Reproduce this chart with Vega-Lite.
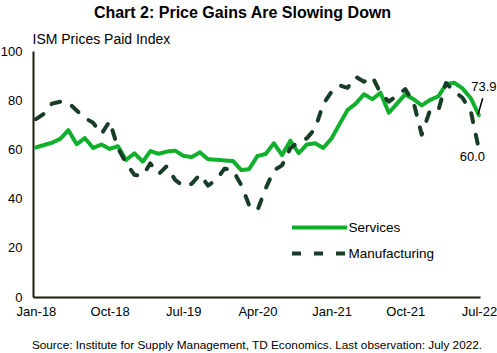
{
  "$schema": "https://vega.github.io/schema/vega-lite/v6.json",
  "width": 447,
  "height": 246,
  "autosize": "none",
  "padding": {"left": 33, "top": 51, "right": 17, "bottom": 56},
  "background": "white",
  "config": {"view": {"stroke": null}, "font": "Liberation Sans"},
  "title": {"text": "Chart 2: Price Gains Are Slowing Down", "fontSize": 16, "fontWeight": "bold", "font": "Liberation Sans", "anchor": "middle", "frame": "group", "dx": -14, "offset": 11, "color": "black"},
  "datasets": {
    "ism": [
      {"d":"2018/01/01","s":"Services","v":60.8},{"d":"2018/02/01","s":"Services","v":61.8},{"d":"2018/03/01","s":"Services","v":62.7},{"d":"2018/04/01","s":"Services","v":64.3},{"d":"2018/05/01","s":"Services","v":67.8},{"d":"2018/06/01","s":"Services","v":62.1},{"d":"2018/07/01","s":"Services","v":64.6},{"d":"2018/08/01","s":"Services","v":60.6},{"d":"2018/09/01","s":"Services","v":62.0},{"d":"2018/10/01","s":"Services","v":60.2},{"d":"2018/11/01","s":"Services","v":61.3},{"d":"2018/12/01","s":"Services","v":55.7},
      {"d":"2019/01/01","s":"Services","v":58.4},{"d":"2019/02/01","s":"Services","v":55.0},{"d":"2019/03/01","s":"Services","v":59.3},{"d":"2019/04/01","s":"Services","v":58.2},{"d":"2019/05/01","s":"Services","v":59.1},{"d":"2019/06/01","s":"Services","v":59.5},{"d":"2019/07/01","s":"Services","v":57.4},{"d":"2019/08/01","s":"Services","v":56.9},{"d":"2019/09/01","s":"Services","v":58.8},{"d":"2019/10/01","s":"Services","v":56.0},{"d":"2019/11/01","s":"Services","v":55.8},{"d":"2019/12/01","s":"Services","v":55.5},
      {"d":"2020/01/01","s":"Services","v":55.3},{"d":"2020/02/01","s":"Services","v":51.6},{"d":"2020/03/01","s":"Services","v":52.0},{"d":"2020/04/01","s":"Services","v":57.3},{"d":"2020/05/01","s":"Services","v":58.1},{"d":"2020/06/01","s":"Services","v":62.5},{"d":"2020/07/01","s":"Services","v":57.7},{"d":"2020/08/01","s":"Services","v":63.5},{"d":"2020/09/01","s":"Services","v":58.5},{"d":"2020/10/01","s":"Services","v":62.0},{"d":"2020/11/01","s":"Services","v":62.5},{"d":"2020/12/01","s":"Services","v":60.6},
      {"d":"2021/01/01","s":"Services","v":64.5},{"d":"2021/02/01","s":"Services","v":70.6},{"d":"2021/03/01","s":"Services","v":76.0},{"d":"2021/04/01","s":"Services","v":78.7},{"d":"2021/05/01","s":"Services","v":82.4},{"d":"2021/06/01","s":"Services","v":80.4},{"d":"2021/07/01","s":"Services","v":83.0},{"d":"2021/08/01","s":"Services","v":74.9},{"d":"2021/09/01","s":"Services","v":78.7},{"d":"2021/10/01","s":"Services","v":82.4},{"d":"2021/11/01","s":"Services","v":80.4},{"d":"2021/12/01","s":"Services","v":77.9},
      {"d":"2022/01/01","s":"Services","v":80.1},{"d":"2022/02/01","s":"Services","v":81.6},{"d":"2022/03/01","s":"Services","v":86.5},{"d":"2022/04/01","s":"Services","v":87.1},{"d":"2022/05/01","s":"Services","v":84.8},{"d":"2022/06/01","s":"Services","v":80.8},{"d":"2022/07/01","s":"Services","v":73.9},
      {"d":"2018/01/01","s":"Manufacturing","v":72.3},{"d":"2018/02/01","s":"Manufacturing","v":74.6},{"d":"2018/03/01","s":"Manufacturing","v":78.6},{"d":"2018/04/01","s":"Manufacturing","v":79.4},{"d":"2018/05/01","s":"Manufacturing","v":79.0},{"d":"2018/06/01","s":"Manufacturing","v":75.8},{"d":"2018/07/01","s":"Manufacturing","v":72.8},{"d":"2018/08/01","s":"Manufacturing","v":70.8},{"d":"2018/09/01","s":"Manufacturing","v":66.3},{"d":"2018/10/01","s":"Manufacturing","v":71.5},{"d":"2018/11/01","s":"Manufacturing","v":60.5},{"d":"2018/12/01","s":"Manufacturing","v":54.5},
      {"d":"2019/01/01","s":"Manufacturing","v":49.6},{"d":"2019/02/01","s":"Manufacturing","v":49.4},{"d":"2019/03/01","s":"Manufacturing","v":54.3},{"d":"2019/04/01","s":"Manufacturing","v":50.0},{"d":"2019/05/01","s":"Manufacturing","v":53.2},{"d":"2019/06/01","s":"Manufacturing","v":47.6},{"d":"2019/07/01","s":"Manufacturing","v":45.1},{"d":"2019/08/01","s":"Manufacturing","v":46.0},{"d":"2019/09/01","s":"Manufacturing","v":49.8},{"d":"2019/10/01","s":"Manufacturing","v":45.3},{"d":"2019/11/01","s":"Manufacturing","v":47.8},{"d":"2019/12/01","s":"Manufacturing","v":52.2},
      {"d":"2020/01/01","s":"Manufacturing","v":51.5},{"d":"2020/02/01","s":"Manufacturing","v":45.5},{"d":"2020/03/01","s":"Manufacturing","v":37.4},{"d":"2020/04/01","s":"Manufacturing","v":35.2},{"d":"2020/05/01","s":"Manufacturing","v":44.0},{"d":"2020/06/01","s":"Manufacturing","v":51.5},{"d":"2020/07/01","s":"Manufacturing","v":53.5},{"d":"2020/08/01","s":"Manufacturing","v":60.5},{"d":"2020/09/01","s":"Manufacturing","v":63.0},{"d":"2020/10/01","s":"Manufacturing","v":64.5},{"d":"2020/11/01","s":"Manufacturing","v":68.5},{"d":"2020/12/01","s":"Manufacturing","v":78.5},
      {"d":"2021/01/01","s":"Manufacturing","v":83.5},{"d":"2021/02/01","s":"Manufacturing","v":86.0},{"d":"2021/03/01","s":"Manufacturing","v":85.0},{"d":"2021/04/01","s":"Manufacturing","v":89.5},{"d":"2021/05/01","s":"Manufacturing","v":87.5},{"d":"2021/06/01","s":"Manufacturing","v":89.5},{"d":"2021/07/01","s":"Manufacturing","v":83.0},{"d":"2021/08/01","s":"Manufacturing","v":79.4},{"d":"2021/09/01","s":"Manufacturing","v":82.0},{"d":"2021/10/01","s":"Manufacturing","v":84.5},{"d":"2021/11/01","s":"Manufacturing","v":79.0},{"d":"2021/12/01","s":"Manufacturing","v":66.0},
      {"d":"2022/01/01","s":"Manufacturing","v":76.0},{"d":"2022/02/01","s":"Manufacturing","v":76.0},{"d":"2022/03/01","s":"Manufacturing","v":87.0},{"d":"2022/04/01","s":"Manufacturing","v":83.5},{"d":"2022/05/01","s":"Manufacturing","v":81.0},{"d":"2022/06/01","s":"Manufacturing","v":75.5},{"d":"2022/07/01","s":"Manufacturing","v":60.0}
    ]
  },
  "encoding": {
    "x": {
      "field": "d", "type": "temporal",
      "scale": {"domain": [{"year": 2017, "month": 12, "date": 21}, {"year": 2022, "month": 7, "date": 5}]},
      "axis": {
        "values": [{"year": 2018, "month": 1, "date": 1}, {"year": 2018, "month": 10, "date": 1}, {"year": 2019, "month": 7, "date": 1}, {"year": 2020, "month": 4, "date": 1}, {"year": 2021, "month": 1, "date": 1}, {"year": 2021, "month": 10, "date": 1}, {"year": 2022, "month": 7, "date": 1}],
        "format": "%b-%y", "labelFontSize": 13, "labelColor": "black", "labelPadding": 8, "labelOverlap": false, "labelFlush": false,
        "ticks": false, "grid": false, "domainColor": "#1b1b0e", "domainWidth": 2,
        "title": "Source: Institute for Supply Management, TD Economics. Last observation: July 2022.",
        "titleFontSize": 11.8, "titleFontWeight": "normal", "titleColor": "black", "titlePadding": 21
      }
    },
    "y": {
      "field": "v", "type": "quantitative",
      "scale": {"domain": [0, 100], "nice": false},
      "axis": {
        "values": [0, 20, 40, 60, 80, 100], "labelFontSize": 13, "labelColor": "black", "labelPadding": 11,
        "ticks": false, "grid": false, "domainColor": "#1b1b0e", "domainWidth": 2,
        "title": "ISM Prices Paid Index", "titleAngle": 0, "titleAlign": "left", "titleBaseline": "alphabetic",
        "titleX": -1, "titleY": -8, "titleFontSize": 14, "titleFontWeight": "normal", "titleColor": "black"
      }
    }
  },
  "layer": [
    {
      "data": {"name": "ism"},
      "mark": {"type": "line", "strokeWidth": 4, "strokeCap": "round", "strokeJoin": "round"},
      "encoding": {
        "color": {
          "field": "s", "type": "nominal",
          "scale": {"domain": ["Services", "Manufacturing"], "range": ["#10b02c", "#173d27"]},
          "legend": {
            "title": null, "orient": "none", "legendX": 279.5, "legendY": 169.5, "padding": 0,
            "symbolType": "M-5.5,0H5.5", "symbolSize": 100, "symbolStrokeWidth": 4,
            "labelFontSize": 13.5, "labelColor": "black", "labelOffset": 22, "rowPadding": 10
          }
        },
        "strokeDash": {
          "field": "s", "type": "nominal",
          "scale": {"domain": ["Services", "Manufacturing"], "range": [[1, 0], [9, 13]]},
          "legend": {
            "title": null, "orient": "none", "legendX": 279.5, "legendY": 169.5, "padding": 0,
            "symbolType": "M-5.5,0H5.5", "symbolSize": 100, "symbolStrokeWidth": 4,
            "labelFontSize": 13.5, "labelColor": "black", "labelOffset": 22, "rowPadding": 10
          }
        }
      }
    },
    {
      "data": {"values": [{"d": "2022/07/01", "v": 73.9, "t": "73.9"}]},
      "mark": {"type": "text", "fontSize": 13, "color": "black", "dx": 5, "dy": -28, "align": "center", "baseline": "middle"},
      "encoding": {"text": {"field": "t"}}
    },
    {
      "data": {"values": [{"d": "2022/07/01", "v": 60.0, "t": "60.0"}]},
      "mark": {"type": "text", "fontSize": 13, "color": "black", "dx": -6.5, "dy": 7.5, "align": "center", "baseline": "middle"},
      "encoding": {"text": {"field": "t"}}
    },
    {
      "data": {"values": [{"d": "2022/06/28", "d2": "2022/07/15", "v": 74.3, "v2": 80.8}]},
      "mark": {"type": "rule", "color": "black", "strokeWidth": 1.5},
      "encoding": {"x2": {"field": "d2"}, "y2": {"field": "v2"}}
    }
  ]
}
